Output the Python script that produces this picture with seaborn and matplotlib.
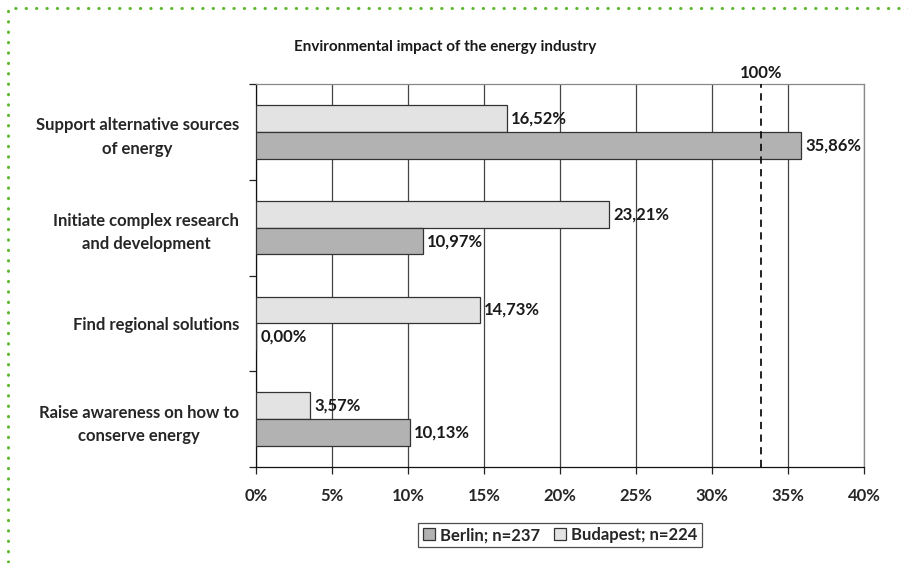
import pandas as pd
import numpy as np
import matplotlib.pyplot as plt
import seaborn as sns
from matplotlib.patches import Patch, Rectangle

# values (percent)
categories = ['Support alternative sources\nof energy',
              'Initiate complex research\nand development',
              'Find regional solutions',
              'Raise awareness on how to\nconserve energy']
budapest = [16.52, 23.21, 14.73, 3.57]
berlin = [35.86, 10.97, 0.00, 10.13]
series = ['Budapest; n=224', 'Berlin; n=237']
colors = ['#e3e3e3', '#b2b2b2']
ref_value = 33.22  # the "100%" marker
ref_label = '100%'

df = pd.DataFrame({
    'category': categories * 2,
    'value': budapest + berlin,
    'series': [series[0]] * len(categories) + [series[1]] * len(categories),
})

sns.set_theme(style='white')
plt.rcParams['font.family'] = ['Lato', 'DejaVu Sans']
plt.rcParams['font.weight'] = 'bold'

fs = 12
fig = plt.figure(figsize=(9.08, 5.63), dpi=100)
ax = fig.add_axes([0.2819, 0.1705, 0.6696, 0.6803])

sns.barplot(data=df, y='category', x='value', hue='series', orient='h',
            palette=colors, width=0.56, edgecolor='#333333', linewidth=0.9,
            saturation=1, legend=False, ax=ax, zorder=3)

# data labels
for cont in ax.containers:
    labels = [f'{v:.2f}%'.replace('.', ',') for v in cont.datavalues]
    ax.bar_label(cont, labels=labels, padding=3, fontsize=fs,
                 fontweight='bold', color='#1a1a1a')

ax.set_xlim(0, 40)
ax.set_ylim(len(categories) - 0.5, -0.5)
ax.set_xticks(np.arange(0, 41, 5))
ax.set_xticklabels([f'{t}%' for t in range(0, 41, 5)])
ax.xaxis.grid(True, color='#444444', linewidth=0.9, zorder=0)
ax.set_axisbelow(True)

# category boundary ticks on the y axis
ax.set_yticks(np.arange(len(categories)))
ax.set_yticks(np.arange(-0.5, len(categories), 1), minor=True)
ax.tick_params(axis='y', which='major', length=0, pad=12, labelsize=fs)
ax.tick_params(axis='y', which='minor', length=5, width=0.9, color='#222222', left=True)
ax.tick_params(axis='x', length=5, width=0.9, color='#222222', bottom=True,
               pad=10, labelsize=fs)
for lab in ax.get_yticklabels():
    lab.set_multialignment('center')
    lab.set_linespacing(1.55)
    lab.set_fontweight('bold')
for lab in ax.get_xticklabels():
    lab.set_fontweight('bold')

ax.set_xlabel('')
ax.set_ylabel('')
for s in ['top', 'right']:
    ax.spines[s].set_color('#888888')
    ax.spines[s].set_linewidth(0.9)
for s in ['left', 'bottom']:
    ax.spines[s].set_color('#111111')
    ax.spines[s].set_linewidth(0.9)

# reference line
ax.axvline(ref_value, color='#111111', linestyle=(0, (4, 3)), linewidth=1.3, zorder=4)
ax.text(ref_value, -0.53, ref_label, ha='center', va='bottom', fontsize=fs,
        fontweight='bold', color='#1a1a1a')

fig.text(0.49, 0.916, 'Environmental impact of the energy industry', ha='center',
         va='center', fontsize=11, fontweight='bold', color='#1a1a1a')

handles = [Patch(facecolor=colors[1], edgecolor='#333333', linewidth=0.9),
           Patch(facecolor=colors[0], edgecolor='#333333', linewidth=0.9)]
leg = fig.legend(handles, [series[1], series[0]], loc='center',
                 bbox_to_anchor=(0.6167, 0.0495), ncol=2, frameon=True,
                 fancybox=False, edgecolor='#222222', fontsize=fs,
                 handlelength=0.75, handleheight=0.75, handletextpad=0.3,
                 columnspacing=0.8, borderpad=0.25)
leg.get_frame().set_linewidth(0.9)
for t in leg.get_texts():
    t.set_fontweight('bold')

# green dotted frame
fig.patches.append(Rectangle((0.0088, -0.2), 1.2, 1.186, transform=fig.transFigure,
                             fill=False, edgecolor='#5cb82e', linewidth=2.2,
                             linestyle=(0, (0.1, 3.3)), capstyle='round'))

fig.savefig('out.png', dpi=100)
